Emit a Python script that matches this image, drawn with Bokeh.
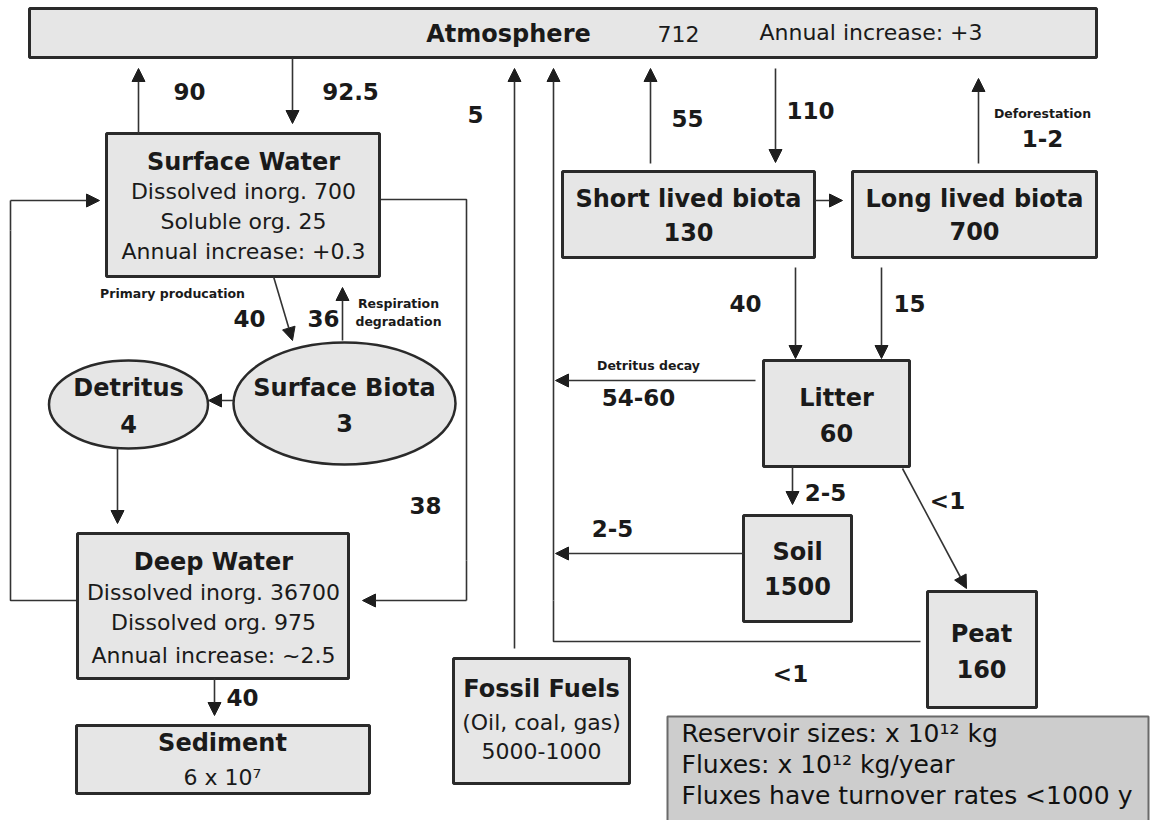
from bokeh.plotting import figure
from bokeh.models import Range1d, Arrow, NormalHead, ColumnDataSource
from bokeh.core.properties import value
from bokeh.embed import file_html
from bokeh.resources import INLINE

# ---------------- data (reservoirs x 10^12 kg, fluxes x 10^12 kg/year) ----------------
atmosphere_title = "Atmosphere"
atmosphere_size = "712"
atmosphere_increase = "Annual increase:  +3"

surface_water_title = "Surface Water"
surface_water_lines = ["Dissolved inorg. 700", "Soluble org. 25", "Annual increase: +0.3"]

deep_water_title = "Deep Water"
deep_water_lines = ["Dissolved inorg. 36700", "Dissolved org. 975", "Annual increase: ~2.5"]

sediment_title = "Sediment"
sediment_size = "6 x 10\u2077"

fossil_title = "Fossil Fuels"
fossil_lines = ["(Oil, coal, gas)", "5000-1000"]

bio_names = ["Short lived biota", "Long lived biota", "Litter", "Soil", "Peat", "Surface Biota", "Detritus"]
bio_sizes = ["130", "700", "60", "1500", "160", "3", "4"]

flux_names = ["ocean_out", "ocean_in", "fossil", "biota_resp", "photosynth", "deforest",
              "primary_prod", "respiration", "short_litter", "long_litter", "detritus_decay",
              "downwelling", "litter_soil", "litter_peat", "soil_resp", "peat_resp", "sedimentation"]
flux_values = ["90", "92.5", "5", "55", "110", "1-2",
               "40", "36", "40", "15", "54-60",
               "38", "2-5", "<1", "2-5", "<1", "40"]

process_labels = ["Primary producation", "Respiration", "degradation", "Deforestation", "Detritus decay"]

legend_lines = ["Reservoir sizes:  x 10\u00b9\u00b2 kg", "Fluxes: x 10\u00b9\u00b2 kg/year",
                "Fluxes have turnover rates <1000 y"]

# ---------------- layout (pixel positions of the diagram) ----------------
W, H = 1150, 820
BOX_FILL = "#e6e6e6"
BOX_LINE = "#2a2a2a"
INK = "#1a1a1a"
LINE = "#333333"

boxes = {  # left, right, top, bottom
    "Atmosphere": (29, 1096, 8, 57),
    "Surface Water": (106, 379, 133, 276),
    "Short lived biota": (562, 814, 171, 257),
    "Long lived biota": (852, 1096, 171, 257),
    "Litter": (763, 909, 360, 466),
    "Soil": (743, 851, 515, 621),
    "Peat": (927, 1036, 591, 707),
    "Deep Water": (77, 348, 533, 678),
    "Sediment": (76, 369, 725, 793),
    "Fossil Fuels": (453, 629, 658, 783),
}
ellipses = {  # cx, cy, w, h
    "Surface Biota": (344, 403, 222, 122),
    "Detritus": (128, 404, 159, 88),
}

p = figure(width=W, height=H, x_range=Range1d(0, W), y_range=Range1d(H, 0),
           output_backend="svg", toolbar_location=None, min_border=0,
           x_axis_type=None, y_axis_type=None)
p.outline_line_color = None
p.background_fill_color = "white"
p.border_fill_color = "white"

# legend panel
p.quad(left=[667], right=[1148], top=[716], bottom=[830], fill_color="#cdcdcd",
       line_color="#6a6a6a", line_width=2)

# connector polylines (no heads)
poly_xs = [[920, 553, 553], [77, 10, 10], [379, 466, 466]]
poly_ys = [[641, 641, 600], [600, 600, 230], [199, 199, 560]]
p.multi_line(xs=poly_xs, ys=poly_ys, line_color=LINE, line_width=1.6)

# boxes
names = list(boxes.keys())
p.quad(left=[boxes[n][0] for n in names], right=[boxes[n][1] for n in names],
       top=[boxes[n][2] for n in names], bottom=[boxes[n][3] for n in names],
       fill_color=BOX_FILL, line_color=BOX_LINE, line_width=3)

en = list(ellipses.keys())
p.ellipse(x=[ellipses[n][0] for n in en], y=[ellipses[n][1] for n in en],
          width=[ellipses[n][2] for n in en], height=[ellipses[n][3] for n in en],
          fill_color=BOX_FILL, line_color=BOX_LINE, line_width=2.5)

# arrows: start -> tip
arrow_geom = {
    "ocean_out": (138, 133, 138, 68),
    "ocean_in": (292, 57, 292, 123),
    "fossil": (514, 648, 514, 68),
    "return": (553, 600, 553, 68),
    "biota_resp": (650, 163, 650, 68),
    "photosynth": (775, 68, 775, 162),
    "deforest": (978, 163, 978, 78),
    "short_long": (814, 200, 842, 200),
    "short_litter": (795, 267, 795, 358),
    "long_litter": (881, 267, 881, 358),
    "detritus_decay": (755, 380, 555, 380),
    "litter_soil": (792, 466, 792, 504),
    "litter_peat": (902, 468, 966, 588),
    "soil_resp": (743, 553, 555, 553),
    "primary_prod": (273, 276, 292, 340),
    "respiration": (342, 340, 342, 287),
    "biota_detritus": (233, 400, 208, 400),
    "detritus_deep": (117, 448, 117, 523),
    "left_loop": (10, 230, 10, 200),
    "left_loop2": (10, 200, 99, 200),
    "right_loop": (466, 560, 466, 600),
    "right_loop2": (466, 600, 362, 600),
    "sedimentation": (214, 678, 214, 715),
}
heads = [k for k in arrow_geom if k not in ("left_loop", "right_loop")]
plain = ["left_loop", "right_loop"]
p.segment(x0=[arrow_geom[k][0] for k in plain], y0=[arrow_geom[k][1] for k in plain],
          x1=[arrow_geom[k][2] for k in plain], y1=[arrow_geom[k][3] for k in plain],
          line_color=LINE, line_width=1.6)
asrc = ColumnDataSource(dict(
    x0=[arrow_geom[k][0] for k in heads], y0=[arrow_geom[k][1] for k in heads],
    x1=[arrow_geom[k][2] for k in heads], y1=[arrow_geom[k][3] for k in heads]))
p.add_layout(Arrow(end=NormalHead(size=13, fill_color="#1e1e1e", line_color="#1e1e1e", line_width=1),
                   source=asrc, x_start="x0", y_start="y0", x_end="x1", y_end="y1",
                   line_color=LINE, line_width=1.6))


def txt(xs, ys, texts, size, bold=False, font="DejaVu Sans", align="center", color=INK):
    p.text(x=xs, y=ys, text=texts, text_font=value(font), text_font_size=size,
           text_font_style="bold" if bold else "normal", text_align=align,
           text_baseline="middle", text_color=color)


# reservoir titles (bold)
title_pos = {
    "Atmosphere": (508, 33), "Surface Water": (243, 161), "Short lived biota": (688, 198),
    "Long lived biota": (974, 198), "Litter": (836, 397), "Soil": (797, 551), "Peat": (981, 633),
    "Deep Water": (213, 561), "Sediment": (222, 742), "Fossil Fuels": (541, 688),
    "Surface Biota": (344, 387), "Detritus": (128, 387),
}
titles = [atmosphere_title, surface_water_title, deep_water_title, sediment_title, fossil_title] + bio_names
txt([title_pos[t][0] for t in titles], [title_pos[t][1] for t in titles], titles, "24px", bold=True)

# bold sizes of biota pools
size_pos = {"Short lived biota": (688, 231), "Long lived biota": (974, 230), "Litter": (836, 432),
            "Soil": (797, 585), "Peat": (981, 668), "Surface Biota": (344, 422), "Detritus": (128, 423)}
txt([size_pos[n][0] for n in bio_names], [size_pos[n][1] for n in bio_names], bio_sizes, "24px", bold=True)

# normal body text
body = [atmosphere_size, atmosphere_increase] + surface_water_lines + deep_water_lines + [sediment_size] + fossil_lines
body_x = [678, 874] + [243] * 3 + [213] * 3 + [222] + [541, 541]
body_y = [33, 32, 191, 221, 251, 592, 622, 655, 777, 722, 750]
txt(body_x, body_y, body, "22px")

# flux labels
flux_pos = {
    "ocean_out": (189, 91), "ocean_in": (350, 91), "fossil": (475, 114), "biota_resp": (687, 118),
    "photosynth": (810, 110), "deforest": (1042, 138), "primary_prod": (249, 318),
    "respiration": (323, 318), "short_litter": (745, 303), "long_litter": (909, 303),
    "detritus_decay": (638, 397), "downwelling": (425, 505), "litter_soil": (825, 492),
    "litter_peat": (947, 500), "soil_resp": (612, 528), "peat_resp": (790, 673),
    "sedimentation": (242, 697),
}
txt([flux_pos[n][0] for n in flux_names], [flux_pos[n][1] for n in flux_names], flux_values, "23px", bold=True)

# small process labels
proc_x = [172, 398, 398, 1042, 648]
proc_y = [293, 303, 321, 113, 365]
txt(proc_x, proc_y, process_labels, "12.5px", bold=True)

# legend text
txt([681] * 3, [733, 764, 795], legend_lines, "25px", align="left", color="#111111")

open("out.html", "w").write(file_html(p, INLINE))
